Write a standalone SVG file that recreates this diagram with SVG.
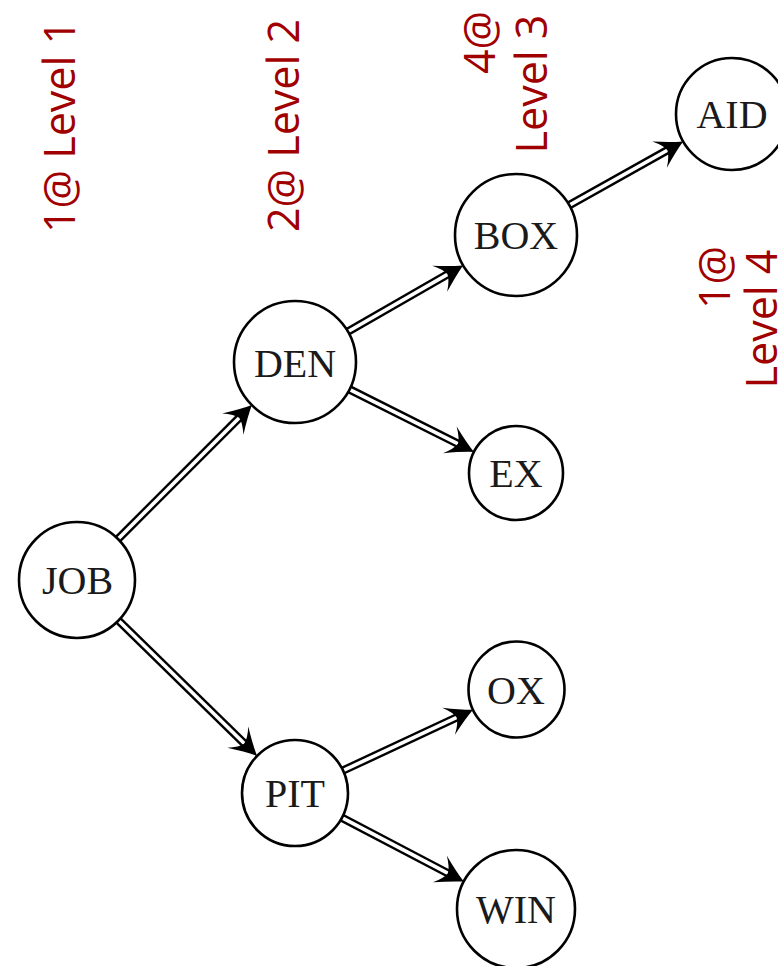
<svg xmlns="http://www.w3.org/2000/svg" width="778" height="966" viewBox="0 0 778 966">
<style>
  .node circle { fill: #ffffff; stroke: #000000; stroke-width: 2.6; }
  .node text { font-family: "Liberation Serif", "DejaVu Serif", serif; font-size: 40px; fill: #1a1a1a; text-anchor: middle; }
  .lbl { font-family: "Open Sans", "Noto Sans", "DejaVu Sans", sans-serif; font-size: 43px; fill: #a00000; text-anchor: middle; }
  .outer { stroke: #000000; stroke-width: 8.4; stroke-linecap: butt; }
  .inner { stroke: #ffffff; stroke-width: 3.6; stroke-linecap: butt; }
</style>
<defs>
  <path id="head" d="M0,0 Q-11,-5 -27,-15 Q-19,-6 -18,0 Q-19,6 -27,15 Q-11,5 0,0 Z" fill="#000000"/>
</defs>
<rect x="0" y="0" width="778" height="966" fill="#ffffff"/>

<g id="labels">
  <text class="lbl" transform="translate(75,126.5) rotate(-90)">1@ Level 1</text>
  <text class="lbl" transform="translate(299,125.5) rotate(-90)">2@ Level 2</text>
  <text class="lbl" transform="translate(495,42.5) rotate(-90)">4@</text>
  <text class="lbl" transform="translate(547,84) rotate(-90)">Level 3</text>
  <text class="lbl" transform="translate(730,277.5) rotate(-90)">1@</text>
  <text class="lbl" transform="translate(777,319) rotate(-90)">Level 4</text>
</g>

<g id="connectors">
  <g id="e-job-den" transform="translate(251.9,405.1) rotate(-45)">
    <line class="outer" x1="-189.3" y1="0" x2="-14" y2="0"/>
    <line class="inner" x1="-190" y1="0" x2="-15" y2="0"/>
    <use href="#head"/>
  </g>
  <g id="e-job-pit" transform="translate(257.1,756.0) rotate(44.33)">
    <line class="outer" x1="-193.8" y1="0" x2="-14" y2="0"/>
    <line class="inner" x1="-194.5" y1="0" x2="-15" y2="0"/>
    <use href="#head"/>
  </g>
  <g id="e-den-box" transform="translate(463.1,265.4) rotate(-29.88)">
    <line class="outer" x1="-132.9" y1="0" x2="-14" y2="0"/>
    <line class="inner" x1="-133.6" y1="0" x2="-15" y2="0"/>
    <use href="#head"/>
  </g>
  <g id="e-den-ex" transform="translate(474.0,451.9) rotate(26.67)">
    <line class="outer" x1="-139.3" y1="0" x2="-14" y2="0"/>
    <line class="inner" x1="-140" y1="0" x2="-15" y2="0"/>
    <use href="#head"/>
  </g>
  <g id="e-box-aid" transform="translate(683.1,141.4) rotate(-29.26)">
    <line class="outer" x1="-130.6" y1="0" x2="-14" y2="0"/>
    <line class="inner" x1="-131.3" y1="0" x2="-15" y2="0"/>
    <use href="#head"/>
  </g>
  <g id="e-pit-ox" transform="translate(473.0,709.8) rotate(-25.05)">
    <line class="outer" x1="-143.5" y1="0" x2="-14" y2="0"/>
    <line class="inner" x1="-144.2" y1="0" x2="-15" y2="0"/>
    <use href="#head"/>
  </g>
  <g id="e-pit-win" transform="translate(463.8,881.6) rotate(27.69)">
    <line class="outer" x1="-137.6" y1="0" x2="-14" y2="0"/>
    <line class="inner" x1="-138.3" y1="0" x2="-15" y2="0"/>
    <use href="#head"/>
  </g>
</g>

<g id="node-job" class="node"><circle cx="77" cy="580" r="58"/><text x="77.5" y="594">JOB</text></g>
<g id="node-den" class="node"><circle cx="295" cy="362" r="61"/><text x="295" y="376.5">DEN</text></g>
<g id="node-pit" class="node"><circle cx="295" cy="793" r="53"/><text x="295" y="807">PIT</text></g>
<g id="node-box" class="node"><circle cx="516" cy="235" r="61"/><text x="516" y="249">BOX</text></g>
<g id="node-ex" class="node"><circle cx="516" cy="473" r="47"/><text x="516" y="487">EX</text></g>
<g id="node-ox" class="node"><circle cx="516.5" cy="689.5" r="48"/><text x="516" y="703.5">OX</text></g>
<g id="node-win" class="node"><circle cx="516" cy="909" r="59"/><text x="516" y="923">WIN</text></g>
<g id="node-aid" class="node"><circle cx="732" cy="114" r="56"/><text x="732" y="128">AID</text></g>
</svg>
